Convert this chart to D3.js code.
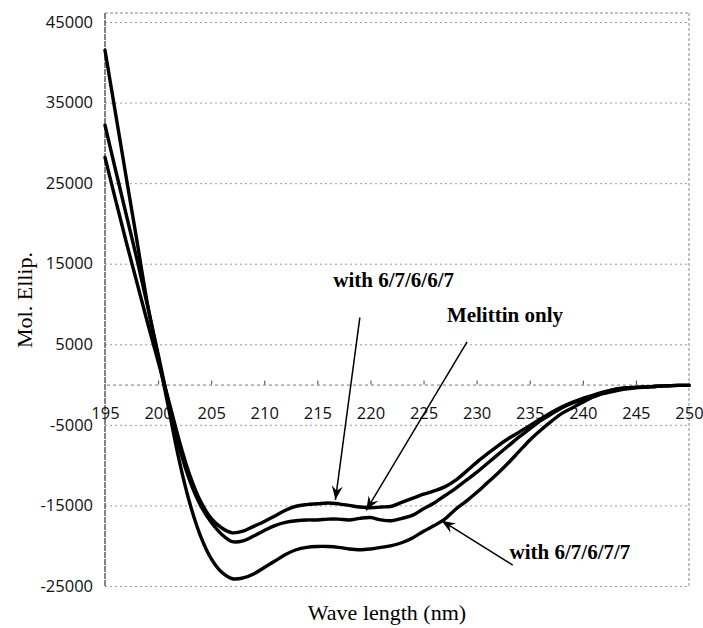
<!DOCTYPE html>
<html lang="en">
<head>
    <meta charset="UTF-8">
    <title>Mol. Ellip. vs Wave length</title>
    <script src="https://d3js.org/d3.v7.min.js"></script>
    <style>
        * {
            margin: 0;
            padding: 0;
            box-sizing: border-box;
        }

        body {
            background-color: #ffffff;
            width: 703px;
            height: 628px;
            overflow: hidden;
        }

        .grid line {
            stroke: #9a9a9a;
            stroke-width: 1;
            stroke-dasharray: 2, 3;
        }

        .tick-label {
            font-family: 'Open Sans', sans-serif;
            font-size: 16.5px;
            fill: #111;
        }

        .curve {
            fill: none;
            stroke: #000;
            stroke-width: 3.4;
            stroke-linejoin: round;
            stroke-linecap: round;
        }

        .note {
            font-family: 'Liberation Serif', 'Times New Roman', serif;
            font-weight: bold;
            font-size: 21px;
            fill: #000;
        }

        .axis-title {
            font-family: 'Liberation Serif', 'Times New Roman', serif;
            font-size: 22px;
            fill: #000;
        }

        .arrow {
            stroke: #000;
            stroke-width: 1.5;
        }
    </style>
</head>
<body>
    <div id="chart"></div>

    <script>
        // Wavelengths (nm), one reading per nm
        const wavelengths = [195, 196, 197, 198, 199, 200, 201, 202, 203, 204,
            205, 206, 207, 208, 209, 210, 211, 212, 213, 214,
            215, 216, 217, 218, 219, 220, 221, 222, 223, 224,
            225, 226, 227, 228, 229, 230, 231, 232, 233, 234,
            235, 236, 237, 238, 239, 240, 241, 242, 243, 244,
            245, 246, 247, 248, 249, 250];

        // with 6/7/6/6/7 (shallowest minimum)
        const with67667 = [28200, 22900, 17700, 12700, 7700, 2900, -2000, -7000, -11300, -14500,
            -16600, -17800, -18400, -18200, -17600, -17000, -16300, -15600, -15100, -14900,
            -14800, -14700, -14800, -15000, -15200, -15300, -15200, -15100, -14600, -14100,
            -13600, -13200, -12700, -11900, -10800, -9650, -8600, -7600, -6700, -5900,
            -5100, -4300, -3500, -2800, -2200, -1700, -1300, -900, -600, -450,
            -350, -300, -200, -150, -100, -100];

        // Melittin only
        const melittinOnly = [32200, 26600, 21100, 15600, 9800, 3800, -2300, -7800, -12000, -15000,
            -17100, -18600, -19500, -19400, -18800, -18100, -17500, -17100, -16900, -16800,
            -16800, -16700, -16700, -16800, -16600, -16500, -16800, -16900, -16600, -16200,
            -15400, -14700, -13800, -12900, -11900, -10900, -9800, -8700, -7600, -6500,
            -5500, -4500, -3700, -2900, -2300, -1900, -1500, -1100, -800, -550,
            -400, -300, -200, -150, -100, -100];

        // with 6/7/6/7/7 (deepest minimum)
        const with67677 = [41500, 33600, 25700, 17900, 10000, 3500, -3000, -9500, -14800, -18800,
            -21600, -23300, -24100, -24000, -23500, -22700, -21900, -21100, -20500, -20200,
            -20100, -20100, -20200, -20400, -20500, -20400, -20200, -20000, -19600, -19000,
            -18200, -17500, -16700, -15500, -14500, -13400, -12200, -11000, -9700, -8300,
            -6900, -5700, -4600, -3600, -2900, -2200, -1500, -1000, -600, -400,
            -350, -300, -200, -150, -100, -100];

        const xTicks = [195, 200, 205, 210, 215, 220, 225, 230, 235, 240, 245, 250];
        const yTicks = [-25000, -15000, -5000, 5000, 15000, 25000, 35000, 45000];

        // Labels with arrows, placed in data units: text at (tx, ty), arrow from (x1, y1) to (x2, y2)
        const notes = [
            {text: 'with 6/7/6/6/7', tx: 216.5, ty: 12100, x1: 219.0, y1: 8300, x2: 216.7, y2: -14300},
            {text: 'Melittin only', tx: 227.2, ty: 7800, x1: 229.1, y1: 5300, x2: 219.6, y2: -15600},
            {text: 'with 6/7/6/7/7', tx: 233.1, ty: -21650, x1: 233.4, y1: -22400, x2: 226.7, y2: -16900}
        ];

        const width = 703;
        const height = 628;
        const plot = {left: 105, right: 689, top: 13, bottom: 586};

        const svg = d3.select('#chart')
            .append('svg')
            .attr('width', width)
            .attr('height', height);

        svg.append('rect')
            .attr('width', width)
            .attr('height', height)
            .attr('fill', '#fff');

        const x = d3.scaleLinear()
            .domain([195, 250])
            .range([plot.left, plot.right]);

        const y = d3.scaleLinear()
            .domain([-25000, 45000])
            .range([plot.bottom, 22]);

        // Horizontal gridlines and y labels (plain hyphen for negatives)
        const yAxis = svg.append('g')
            .attr('class', 'grid')
            .attr('transform', `translate(${plot.left},0)`)
            .call(d3.axisLeft(y)
                .tickValues(yTicks)
                .tickSize(-(plot.right - plot.left))
                .tickPadding(12)
                .tickFormat(d => String(d)));
        yAxis.select('.domain').remove();
        yAxis.selectAll('text')
            .attr('class', 'tick-label')
            .attr('fill', null);

        // Plot frame: top and right dotted, left axis darker
        svg.append('line')
            .attr('x1', plot.left).attr('x2', plot.right)
            .attr('y1', plot.top).attr('y2', plot.top)
            .attr('stroke', '#888')
            .attr('stroke-dasharray', '3,2');
        svg.append('line')
            .attr('x1', plot.right).attr('x2', plot.right)
            .attr('y1', plot.top).attr('y2', plot.bottom)
            .attr('stroke', '#888')
            .attr('stroke-dasharray', '3,2');
        svg.append('line')
            .attr('x1', plot.left).attr('x2', plot.left)
            .attr('y1', plot.top).attr('y2', plot.bottom)
            .attr('stroke', '#333')
            .attr('stroke-width', 1.2)
            .attr('stroke-dasharray', '6,1');

        // X axis crosses at zero: small ticks pointing up, labels well below
        const xTickG = svg.append('g')
            .attr('transform', `translate(0,${y(0)})`)
            .call(d3.axisTop(x)
                .tickValues(xTicks.slice(1, -1))
                .tickSize(4)
                .tickFormat(''));
        xTickG.select('.domain')
            .attr('stroke', '#777')
            .attr('stroke-dasharray', '3,3');
        xTickG.selectAll('.tick line').attr('stroke', '#444');

        const xLabelG = svg.append('g')
            .attr('transform', `translate(0,${y(0)})`)
            .call(d3.axisBottom(x)
                .tickValues(xTicks)
                .tickSize(0)
                .tickPadding(23));
        xLabelG.select('.domain').remove();
        xLabelG.selectAll('text')
            .attr('class', 'tick-label')
            .attr('fill', null);

        // Curves
        const line = d3.line()
            .x((d, i) => x(wavelengths[i]))
            .y(d => y(d))
            .curve(d3.curveCatmullRom.alpha(0.5));

        [with67667, melittinOnly, with67677].forEach(series => {
            svg.append('path')
                .datum(series)
                .attr('class', 'curve')
                .attr('d', line);
        });

        // Arrow head marker
        svg.append('defs')
            .append('marker')
            .attr('id', 'head')
            .attr('viewBox', '-14 -6 16 12')
            .attr('refX', 0)
            .attr('refY', 0)
            .attr('markerWidth', 16)
            .attr('markerHeight', 12)
            .attr('markerUnits', 'userSpaceOnUse')
            .attr('orient', 'auto')
            .append('path')
            .attr('d', 'M0,0 L-14,-5.5 L-9,0 L-14,5.5 Z')
            .attr('fill', '#000');

        notes.forEach(n => {
            svg.append('line')
                .attr('class', 'arrow')
                .attr('x1', x(n.x1)).attr('y1', y(n.y1))
                .attr('x2', x(n.x2)).attr('y2', y(n.y2))
                .attr('marker-end', 'url(#head)');
            svg.append('text')
                .attr('class', 'note')
                .attr('x', x(n.tx))
                .attr('y', y(n.ty))
                .text(n.text);
        });

        // Axis titles
        svg.append('text')
            .attr('class', 'axis-title')
            .attr('transform', 'translate(32,300) rotate(-90)')
            .attr('text-anchor', 'middle')
            .text('Mol. Ellip.');

        svg.append('text')
            .attr('class', 'axis-title')
            .attr('x', 387)
            .attr('y', 620)
            .attr('text-anchor', 'middle')
            .text('Wave length (nm)');
    </script>
</body>
</html>
